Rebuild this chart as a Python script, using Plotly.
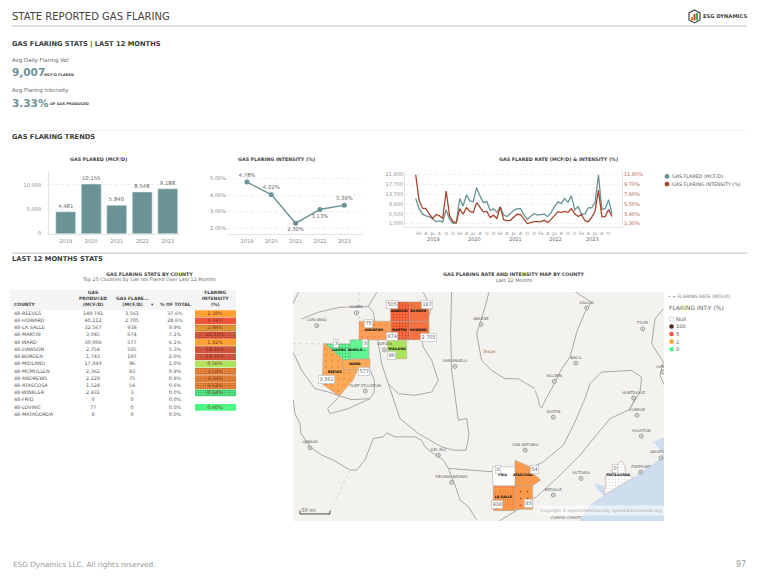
import plotly.graph_objects as go

W, H = 768, 587
FONT = "DejaVu Sans"
TEAL = "#6a9396"
RUST = "#a5452c"

# yearly trends
years = ["2019", "2020", "2021", "2022", "2023"]
flared_yearly = [4481, 10155, 5840, 8548, 9188]
intensity_yearly = [4.78, 4.02, 2.30, 3.13, 3.39]

# monthly trend, Jan 2019 to Nov 2023
flared_monthly = [11850, 7700, 5400, 4700, 4400, 3300, 2300, 2600, 2200, 7200, 3300, 1600, 1700, 11850, 8800,
                  13400, 10900, 10600, 16400, 13000, 10200, 10600, 7000, 7600, 6200, 8400, 5000, 4400, 5600, 7000,
                  7700, 7700, 5100, 3300, 4500, 5600, 5000, 5100, 5400, 4400, 6000, 8400, 10500, 9900, 11850,
                  10300, 13000, 7200, 8500, 5400, 5400, 8100, 8000, 10200, 21800, 7400, 7700, 11400, 5400]
intensity_monthly = [11.8, 6.3, 4.6, 4.5, 3.4, 2.4, 3.2, 3.0, 2.4, 8.3, 3.0, 1.7, 1.5, 4.5, 3.3, 4.7, 3.9, 3.7,
                     5.8, 4.7, 3.8, 3.9, 2.6, 3.1, 2.4, 4.9, 2.1, 1.9, 2.0, 2.7, 3.3, 3.2, 2.2, 1.3, 1.5, 1.7,
                     1.7, 1.7, 2.0, 1.5, 2.2, 2.9, 3.8, 3.7, 3.9, 3.7, 4.5, 3.4, 2.8, 3.2, 1.9, 1.7, 2.6, 4.0,
                     8.5, 2.8, 2.8, 4.3, 2.8]
month_ticks = list(range(1, 58, 2))
month_labels = (["Fe", "A", "Ju", "A", "O", "D"] * 5)[:29]
year_label_pos = [5.4, 17.4, 29.4, 41.4, 52.2]
left_ticks = [1500, 5500, 9600, 13700, 17700, 21800]
right_ticks = [1.3, 3.4, 5.5, 7.6, 9.7, 11.8]
intensity_ticks = [2, 3, 4, 5]

# county table
county = ["48-REEVES", "48-HOWARD", "48-LA SALLE", "48-MARTIN", "48-WARD", "48-DAWSON", "48-BORDEN", "48-MIDLAND",
          "48-MCMULLEN", "48-ANDREWS", "48-ATASCOSA", "48-WINKLER", "48-FRIO", "48-LOVING", "48-MATAGORDA"]
gas_produced = ["149,741", "40,112", "32,567", "3,045", "30,006", "2,754", "1,743", "17,049", "2,362", "2,229",
                "1,524", "2,431", "0", "77", "8"]
gas_flared = ["3,561", "2,705", "938", "674", "577", "505", "187", "96", "83", "75", "54", "3", "0", "0", "0"]
pct_total = ["37.6%", "28.6%", "9.9%", "7.1%", "6.1%", "5.3%", "2.0%", "1.0%", "0.9%", "0.8%", "0.6%", "0.0%",
             "0.0%", "0.0%", "0.0%"]
flare_int = ["2.38%", "6.74%", "2.88%", "22.13%", "1.92%", "18.34%", "10.73%", "0.56%", "3.53%", "3.36%", "3.52%",
             "0.14%", "", "0.40%", ""]

# table cell colours: base, dither dots, dither on/off
int_base = ["#ffa233", "#f0553a", "#ffa233", "#f0553a", "#ffa233", "#f0553a", "#f0553a", "#ade35f", "#ff8a33",
            "#ff8a33", "#ff8a33", "#4df885", "#ffffff", "#4df885", "#ffffff"]
int_dots = ["#ffa233", "#f0553a", "#e8502f", "#ffa233", "#ffa233", "#ffa233", "#ffa233", "#ade35f", "#e8402a",
            "#e8402a", "#e8402a", "#ffa233", "#ffffff", "#4df885", "#ffffff"]
int_shape = ["", "", ".", ".", "", ".", ".", "", ".", ".", ".", ".", "", "", ""]

# county colours on the map
map_fill = ["#fbab58", "#f5713f", "#fb9a4c", "#f4683a", "#fbab58", "#f4683a", "#f5713f", "#abe35d", "#fb9a4c",
            "#fb9f58", "#fb9a4c", "#5ff590", "#ffffff", "#5ff590", "#ffffff"]
map_dots = ["#e8702a", None, "#e86a28", "#d04020", None, "#d04020", None, None, "#b84a20", "#e06a28", None, None,
            None, "#3fb060", "#d5d5d5"]
map_dot_gap = [6, 0, 2.4, 3, 0, 3, 0, 0, 7, 6, 0, 0, 0, 3, 3]

# map geometry, lon/lat
gulf_lon = [-97.037, -96.751, -96.374, -95.586, -95.048, -94.851, -94.761, -94.761]
gulf_lat = [27.75, 28.126, 28.361, 28.769, 29.107, 29.24, 29.381, 27.75]
galveston_lon = [-95.075, -95.003, -94.869, -94.761, -94.761, -94.914, -95.003]
galveston_lat = [29.656, 29.632, 29.695, 29.711, 29.381, 29.46, 29.577]
matagorda_bay_lon = [-96.643, -96.5, -96.347, -96.392, -96.571]
matagorda_bay_lat = [28.636, 28.612, 28.558, 28.361, 28.503]

roads = [
    [(-104.735, 31.735), (-104.502, 31.303), (-104.144, 30.872), (-103.785, 30.793), (-103.472, 30.699)],
    [(-103.472, 30.699), (-103.803, 30.401), (-103.74, 30.284), (-103.248, 30.401), (-102.665, 30.637)],
    [(-103.472, 30.699), (-103.158, 30.613), (-102.665, 30.637), (-102.549, 30.793), (-102.549, 31.068), (-102.665, 31.319)],
    [(-104.502, 32.519), (-104.054, 32.676), (-103.472, 32.793), (-103.023, 32.809), (-102.71, 32.809), (-102.575, 32.676),
     (-102.441, 31.931), (-102.351, 31.46), (-102.172, 30.989), (-101.903, 30.754), (-101.455, 30.715), (-101.007, 30.793),
     (-100.828, 31.068), (-101.007, 31.538), (-101.231, 31.852), (-101.276, 32.048)],
    [(-104.735, 32.872), (-104.592, 33.146)],
    [(-102.71, 32.809), (-102.486, 33.146)],
    [(-101.231, 33.146), (-101.097, 32.911), (-101.007, 32.793), (-101.097, 32.558)],
    [(-100.47, 33.154), (-100.497, 32.244), (-100.47, 31.303), (-100.291, 30.127), (-100.066, 30.165), (-100.003, 29.773),
     (-100.084, 29.42), (-100.425, 29.42), (-100.739, 29.499), (-101.366, 29.813), (-101.859, 30.166), (-102.172, 30.989)],
    [(-99.466, 33.154), (-99.574, 32.793), (-99.798, 32.166), (-99.663, 31.538), (-99.394, 31.303), (-99.036, 31.107),
     (-98.678, 31.107), (-98.23, 30.872)],
    [(-104.726, 30.597), (-104.681, 30.284), (-104.547, 30.048), (-104.52, 29.813), (-104.278, 29.499), (-103.964, 29.303),
     (-103.651, 29.186), (-103.203, 28.95), (-103.023, 28.95), (-102.8, 29.186), (-102.665, 29.499), (-102.575, 29.695),
     (-102.307, 29.735), (-102.217, 29.829), (-101.993, 29.735), (-101.455, 29.735), (-101.276, 29.656), (-101.187, 29.499),
     (-100.962, 29.342), (-100.694, 29.186), (-100.559, 28.99), (-100.38, 28.597), (-100.246, 28.244), (-100.022, 28.088),
     (-99.798, 27.774)],
    [(-100.559, 28.99), (-99.574, 28.927), (-99.349, 28.91), (-98.722, 28.91), (-98.364, 28.989), (-98.005, 29.146),
     (-97.468, 29.538), (-97.154, 30.087), (-96.885, 30.636), (-96.751, 30.989), (-96.437, 31.264), (-95.63, 31.303),
     (-95.362, 31.146), (-95.406, 30.793), (-95.675, 30.401), (-95.541, 30.636)],
    [(-99.188, 27.75), (-98.632, 28.048), (-98.185, 28.322), (-97.647, 28.754), (-97.02, 29.303), (-96.572, 29.773),
     (-96.213, 30.165), (-95.675, 30.385)],
    [(-97.154, 33.162), (-96.706, 32.911), (-96.885, 32.675), (-97.109, 32.205), (-97.288, 31.617), (-97.512, 31.342),
     (-97.781, 30.871), (-97.934, 30.636), (-98.05, 30.416), (-98.113, 30.479), (-98.14, 30.636), (-98.229, 30.83)],
    [(-94.779, 32.754), (-95.003, 32.519), (-95.093, 31.93), (-94.779, 31.499), (-94.869, 31.185), (-94.761, 30.966)],
]
state_line_lon = [-104.735, -103.857, None, -102.96, -102.96, None, -103.203, -103.83]
state_line_lat = [31.931, 31.931, None, 33.15, 32.47, None, 28.95, 27.813]

county_shapes = {
    "REEVES": [(-103.92, 31.931), (-103.857, 31.931), (-103.382, 31.554), (-103.382, 31.319), (-102.997, 31.319),
               (-103.113, 31.084), (-103.49, 30.699), (-103.964, 30.989), (-103.937, 31.303)],
    "HOWARD": [(-101.6, 32.464), (-101.08, 32.464), (-101.08, 32.025), (-101.6, 32.025)],
    "LA SALLE": [(-99.349, 28.581), (-98.767, 28.581), (-98.767, 27.993), (-99.349, 27.993)],
    "MARTIN": [(-102.11, 32.464), (-101.6, 32.464), (-101.6, 32.025), (-102.11, 32.025)],
    "WARD": [(-103.382, 31.554), (-102.665, 31.578), (-102.665, 31.342), (-102.979, 31.319), (-103.382, 31.319)],
    "DAWSON": [(-102.11, 32.919), (-101.6, 32.919), (-101.6, 32.464), (-102.11, 32.464)],
    "BORDEN": [(-101.6, 32.919), (-101.08, 32.919), (-101.08, 32.464), (-101.6, 32.464)],
    "MIDLAND": [(-102.19, 32.009), (-101.68, 32.009), (-101.68, 31.578), (-102.19, 31.578)],
    "MCMULLEN": [(-98.767, 28.581), (-98.292, 28.581), (-98.292, 28.024), (-98.767, 28.024)],
    "ANDREWS": [(-102.96, 32.464), (-102.11, 32.464), (-102.11, 32.025), (-102.96, 32.025)],
    "ATASCOSA": [(-98.767, 29.185), (-98.364, 29.028), (-98.247, 28.848), (-98.077, 28.714), (-98.292, 28.581), (-98.767, 28.581)],
    "WINKLER": [(-103.203, 32.025), (-102.692, 32.025), (-102.692, 31.578), (-103.203, 31.578)],
    "FRIO": [(-99.367, 29.028), (-98.767, 29.028), (-98.767, 28.581), (-99.367, 28.581)],
    "LOVING": [(-103.857, 31.931), (-103.203, 31.931), (-103.203, 31.554), (-103.382, 31.554)],
    "MATAGORDA": [(-96.33, 28.848), (-96.213, 28.871), (-96.123, 29.028), (-95.989, 29.107), (-95.9, 29.161), (-95.801, 29.028),
                  (-95.783, 28.848), (-95.586, 28.769), (-96.374, 28.361), (-96.33, 28.597)],
}
county_label_names = ["DAWSON", "BORDEN", "MARTIN", "HOWARD", "ANDREWS", "MIDLAND", "LOVING", "WINKLE...", "WARD",
                      "REEVES", "FRIO", "ATASCOSA", "LA SALLE", "MATAGORDA"]
county_label_lon = [-101.88, -101.37, -101.88, -101.37, -102.56, -101.94, -103.5, -103.02, -103.07, -103.61,
                    -99.1, -98.56, -99.08, -95.99]
county_label_lat = [32.707, 32.707, 32.26, 32.26, 32.26, 31.81, 31.79, 31.78, 31.45, 31.26, 28.824, 28.82, 28.306, 28.84]

box_values = ["505", "187", "75", "674", "2,705", "3", "3", "96", "577", "3,561", "0", "54", "938", "83", "0"]
box_lon = [-102.07, -101.13, -102.71, -102.08, -101.09, -103.58, -102.79, -102.08, -102.83, -103.84,
           -99.215, -98.23, -99.26, -98.4, -96.09]
box_lat = [32.856, 32.856, 32.417, 32.095, 32.087, 31.931, 31.93, 31.648, 31.288, 31.099, 28.965, 28.97, 28.142, 28.15, 28.98]

city_names = ["CARLSBAD", "HOBBS", "ODESSA", "SAN ANGELO", "ABILENE", "PORT STOCKTON", "OJINAGA", "DEL RIO",
              "PIEDRAS NEGRAS", "DALLAS", "TYLER", "WACO", "KILLEEN", "HUNTSVILLE", "AUSTIN", "SAN ANTONIO", "HOUSTON",
              "GALVESTON", "BEEVILLE", "VICTORIA", "FREEPORT", "CONROE", "LUFKIN"]
city_lon = [-104.099, -103.032, -102.28, -100.38, -99.681, -102.79, -104.278, -100.828, -100.47, -96.84, -95.335,
            -97.136, -97.709, -95.577, -97.736, -98.49, -95.371, -94.842, -97.736, -96.993, -95.389, -95.487, -94.797]
city_lat = [32.362, 32.66, 31.79, 31.397, 32.386, 30.817, 29.476, 29.303, 28.66, 32.777, 32.283, 31.475, 31.044,
            30.652, 30.197, 29.42, 29.75, 29.24, 28.361, 28.754, 28.903, 30.244, 31.264]

legend_names = ["Null", "100", "5", "1", "0"]
legend_colors = ["#ffffff", "#5a2a20", "#f0553a", "#ffa233", "#4df885"]


def px_x(x):
    return x / W


def px_y(y):
    return 1 - y / H


def dom_x(a, b):
    return [px_x(a), px_x(b)]


def dom_y(top, bottom):
    return [px_y(bottom), px_y(top)]


annotations = []
shapes = []


def txt(x, y, s, size=5.0, color="#555555", anchor="left", bold=False, family=FONT, valign="middle"):
    # annotations carry about 2px of padding on the left
    if anchor == "left":
        x -= 2
    annotations.append(dict(x=px_x(x), y=px_y(y), xref="paper", yref="paper", text=f"<b>{s}</b>" if bold else s,
                            showarrow=False, xanchor=anchor, yanchor=valign,
                            font=dict(size=size, color=color, family=family), align="center"))


def rule(y, x0=12, x1=747, color="#d4d4d4", width=1.5):
    shapes.append(dict(type="line", xref="paper", yref="paper", x0=px_x(x0), x1=px_x(x1), y0=px_y(y), y1=px_y(y),
                       line=dict(color=color, width=width)))


def dot(x, y, r, color, line="rgba(0,0,0,0)"):
    shapes.append(dict(type="circle", xref="paper", yref="paper", x0=px_x(x - r), x1=px_x(x + r), y0=px_y(y + r),
                       y1=px_y(y - r), fillcolor=color, line=dict(color=line, width=0.6)))


fig = go.Figure()

# bars
fig.add_trace(go.Bar(x=years, y=flared_yearly, marker_color=TEAL, width=0.78, text=[f"{v:,}" for v in flared_yearly],
                     textposition="outside", textfont=dict(size=5.3, color="#666666"), cliponaxis=False,
                     xaxis="x", yaxis="y"))

# intensity line
fig.add_trace(go.Scatter(x=years, y=intensity_yearly, mode="lines+markers+text", line=dict(color=TEAL, width=1.4),
                         marker=dict(size=5, color=TEAL), text=[f"{v:.2f}%" for v in intensity_yearly],
                         textposition=["top center", "top center", "bottom center", "bottom center", "top center"],
                         textfont=dict(size=5.3, color="#666666"), cliponaxis=False, xaxis="x2", yaxis="y2"))

# monthly combo
month_idx = list(range(len(flared_monthly)))
fig.add_trace(go.Scatter(x=month_idx, y=flared_monthly, mode="lines", line=dict(color=TEAL, width=1.3), xaxis="x3", yaxis="y3"))
fig.add_trace(go.Scatter(x=month_idx, y=intensity_monthly, mode="lines", line=dict(color=RUST, width=1.3), xaxis="x3", yaxis="y4"))

# table intensity column
col_left, col_width = 195, 41
fig.add_trace(go.Bar(y=list(range(len(county))), x=[col_width if v else None for v in flare_int], base=col_left,
                     orientation="h", width=0.94,
                     marker=dict(color=int_base, line_width=0,
                                 pattern=dict(shape=int_shape, size=2.4, solidity=0.4, fgcolor=int_dots, fillmode="overlay")),
                     xaxis="x5", yaxis="y6"))
col_pos = [(14, county, "middle right"), (93, gas_produced, "middle center"), (132, gas_flared, "middle center"),
           (175, pct_total, "middle center"), (215, flare_int, "middle center")]
for cx, vals, pos in col_pos:
    fig.add_trace(go.Scatter(x=[cx] * len(vals), y=list(range(len(vals))), text=vals, mode="text", textposition=pos,
                             textfont=dict(size=4.9, color="#7a3020" if cx == 215 else "#555555"),
                             cliponaxis=False, xaxis="x5", yaxis="y6"))

# map
WATER = "#cfdeee"
for lons, lats in [(gulf_lon, gulf_lat), (galveston_lon, galveston_lat), (matagorda_bay_lon, matagorda_bay_lat)]:
    fig.add_trace(go.Scatter(x=lons, y=lats, mode="lines", fill="toself", fillcolor=WATER, line=dict(width=0, color=WATER),
                             xaxis="x4", yaxis="y5"))
for road in roads:
    fig.add_trace(go.Scatter(x=[p[0] for p in road], y=[p[1] for p in road], mode="lines",
                             line=dict(color="#a9a9a9", width=1.0), xaxis="x4", yaxis="y5"))
fig.add_trace(go.Scatter(x=state_line_lon, y=state_line_lat, mode="lines", line=dict(color="#bdbdbd", width=0.6, dash="dot"),
                         xaxis="x4", yaxis="y5"))

for name, base, dots, gap in zip(county, map_fill, map_dots, map_dot_gap):
    shape = county_shapes[name.replace("48-", "")]
    lons = [p[0] for p in shape] + [shape[0][0]]
    lats = [p[1] for p in shape] + [shape[0][1]]
    trace = go.Scatter(x=lons, y=lats, mode="lines", fill="toself", fillcolor=base,
                       line=dict(color="#b0a090", width=0.5), xaxis="x4", yaxis="y5")
    if dots:
        # sparser grids get a smaller dot share
        trace.fillpattern = dict(shape=".", size=gap, solidity=0.16 if gap < 4 else 0.05, fgcolor=dots, bgcolor=base,
                                 fillmode="replace")
    fig.add_trace(trace)

fig.add_trace(go.Scatter(x=city_lon, y=city_lat, mode="markers+text", text=city_names, textposition="top center",
                         textfont=dict(size=3.7, color="#555555"),
                         marker=dict(symbol="circle-dot", size=4, color="#f3f2ef", line=dict(color="#666666", width=0.6)),
                         xaxis="x4", yaxis="y5"))
fig.add_trace(go.Scatter(x=[-97.396], y=[27.812], mode="text", text=["CORPUS CHRISTI"], textfont=dict(size=3.7, color="#555555"),
                         xaxis="x4", yaxis="y5"))
fig.add_trace(go.Scatter(x=[-99.466], y=[31.75], mode="text", text=["Texas"], textfont=dict(size=4.6, color="#9c6b3c"),
                         xaxis="x4", yaxis="y5"))
fig.add_trace(go.Scatter(x=county_label_lon, y=county_label_lat, mode="text", text=[f"<b>{n}</b>" for n in county_label_names],
                         textfont=dict(size=3.3, color="#111111"), xaxis="x4", yaxis="y5"))
fig.add_trace(go.Scatter(x=[-104.547, -104.547, -103.74, -103.74], y=[27.993, 27.915, 27.915, 27.993], mode="lines",
                         line=dict(color="#333333", width=0.9), xaxis="x4", yaxis="y5"))
fig.add_trace(go.Scatter(x=[-104.32], y=[28.0], mode="text", text=["50 mi"], textfont=dict(size=5, color="#555555"),
                         xaxis="x4", yaxis="y5"))

for label, lon, lat in zip(box_values, box_lon, box_lat):
    annotations.append(dict(x=lon, y=lat, xref="x4", yref="y5", text=label, showarrow=False, bgcolor="#ffffff",
                            bordercolor="#bbbbbb", borderwidth=0.6, borderpad=0.8, font=dict(size=5, color="#666666")))
annotations.append(dict(x=-96.46, y=28.0, xref="x4", yref="y5", text="Copyright © openstreetmap.org, opendatacommons.org",
                        showarrow=False, bgcolor="rgba(255,255,255,0.55)", borderpad=2, font=dict(size=4.3, color="#aaaaaa")))

# page furniture
rule(26)
rule(131, color="#f1f1f1", width=1)
rule(254)
txt(12, 17, "STATE REPORTED GAS FLARING", 10, "#444444")
txt(12, 44, "GAS FLARING STATS | LAST 12 MONTHS", 6.7, "#3a3a3a", bold=True)
txt(12, 61, "Avg Daily Flaring Vol", 5.5, "#666666")
txt(12, 72.5, "9,007", 10.5, TEAL, bold=True)
txt(44, 75, "MCF/D FLARED", 3.6, "#444444", bold=True)
txt(12, 91, "Avg Flaring Intensity", 5.5, "#666666")
txt(12, 103, "3.33%", 10.5, TEAL, bold=True)
txt(50, 104.5, "OF GAS PRODUCED", 3.6, "#444444", bold=True)
txt(12, 137, "GAS FLARING TRENDS", 6.7, "#3a3a3a", bold=True)
txt(12, 260, "LAST 12 MONTHS STATS", 6.7, "#3a3a3a", bold=True)
txt(98, 160, "GAS FLARED (MCF/D)", 4.8, "#444444", "center", True)
txt(276, 160, "GAS FLARING INTENSITY (%)", 4.8, "#444444", "center", True)
txt(558, 160, "GAS FLARED RATE (MCF/D) &amp; INTENSITY (%)", 4.8, "#444444", "center", True)
txt(149, 275, "GAS FLARING STATS BY COUNTY", 4.8, "#444444", "center", True)
txt(149, 280.5, "Top 25 Counties by Gas Vol Flared Over Last 12 Months", 4.8, "#666666", "center")
txt(514, 275, "GAS FLARING RATE AND INTENSITY MAP BY COUNTY", 4.8, "#444444", "center", True)
txt(514, 281, "Last 12 Months", 4.8, "#666666", "center")
txt(13, 566, "ESG Dynamics LLC. All rights reserved.", 7.3, "#9a9a9a")
txt(741, 566, "97", 8, "#9a9a9a", "center")

# table header
shapes.append(dict(type="rect", xref="paper", yref="paper", x0=px_x(10), x1=px_x(236), y0=px_y(311), y1=px_y(291),
                   fillcolor="#f5f5f5", line_width=0, layer="below"))
txt(14, 310.5, "COUNTY", 4.5, "#444444", bold=True, valign="bottom")
txt(93, 310.5, "GAS<br>PRODUCED<br>(MCF/D)", 4.5, "#444444", "center", True, valign="bottom")
txt(132, 310.5, "GAS FLARE...<br>(MCF/D)", 4.5, "#444444", "center", True, valign="bottom")
txt(152, 310.5, "▾", 4.5, "#444444", "center", valign="bottom")
txt(175, 310.5, "% OF TOTAL", 4.5, "#444444", "center", True, valign="bottom")
txt(215, 310.5, "FLARING<br>INTENSITY<br>(%)", 4.5, "#444444", "center", True, valign="bottom")

# chart legends
dot(667, 177, 2.4, TEAL)
dot(667, 184.7, 2.4, RUST)
txt(672, 177, "GAS FLARED (MCF/D)", 4.8, "#555555")
txt(672, 184.7, "GAS FLARING INTENSITY (%)", 4.8, "#555555")

txt(668, 298, "• = FLARING RATE (MCF/D)", 4.6, "#777777")
txt(669, 308.5, "FLARING INT-Y (%)", 6, "#666666")
for i, (label, color) in enumerate(zip(legend_names, legend_colors)):
    y = 320 + i * 7.6
    dot(671.5, y, 2.3, color, "#bbbbbb" if label == "Null" else "rgba(0,0,0,0)")
    txt(676, y, label, 5.2, "#555555")

# logo
hex_x = [694.5, 700, 700, 694.5, 689, 689]
hex_y = [10, 13, 20, 23, 20, 13]
hex_path = "M " + " L ".join(f"{px_x(a)} {px_y(b)}" for a, b in zip(hex_x, hex_y)) + " Z"
shapes.append(dict(type="path", xref="paper", yref="paper", path=hex_path, fillcolor="#ffffff",
                   line=dict(color="#444444", width=1.2)))
for bx, btop, bcolor in [(692, 17, "#e8762c"), (694.5, 14, "#d8392b"), (697, 13, "#4caf50")]:
    shapes.append(dict(type="rect", xref="paper", yref="paper", x0=px_x(bx - 1), x1=px_x(bx + 1), y0=px_y(20.5),
                       y1=px_y(btop), fillcolor=bcolor, line_width=0))
txt(703, 16.5, "ESG DYNAMICS", 5.2, "#444444", bold=True)

# map background sits under the traces
shapes.append(dict(type="rect", xref="x4", yref="y5", x0=-104.735, x1=-94.761, y0=27.75, y1=33.154,
                   fillcolor="#f3f2ef", line_width=0, layer="below"))

for label, pos in zip(years, year_label_pos):
    annotations.append(dict(x=pos, y=px_y(240), xref="x3", yref="paper", text=label, showarrow=False,
                            font=dict(size=5, color="#666666")))

tick = dict(size=5, color="#888888")
grid = dict(showgrid=True, gridcolor="#eeeeee", griddash="dot", gridwidth=0.8, zeroline=False)
base_x = dict(showgrid=False, zeroline=False, showline=True, linecolor="#e4e4e4", linewidth=0.8, ticks="")

fig.update_layout(
    width=W, height=H, autosize=False, margin=dict(l=0, r=0, t=0, b=0, pad=0), showlegend=False,
    paper_bgcolor="#ffffff", plot_bgcolor="#ffffff", font=dict(family=FONT), hovermode=False,
    annotations=annotations, shapes=shapes, barmode="overlay",
    xaxis=dict(domain=dom_x(49, 180), anchor="y", type="category", range=[-0.655, 4.48], ticklabelstandoff=2,
               tickfont=tick, **base_x),
    yaxis=dict(domain=dom_y(172, 235), anchor="x", range=[-100, 12750], tickvals=[0, 5000, 10000], tickformat=",",
               tickfont=tick, showline=True, linecolor="#e4e4e4", linewidth=0.8, ticklabelstandoff=6, **grid),
    xaxis2=dict(domain=dom_x(227, 363), anchor="y2", type="category", range=[-0.82, 4.77], ticklabelstandoff=2,
                tickfont=tick, **base_x),
    yaxis2=dict(domain=dom_y(172, 235), anchor="x2", range=[1.64, 5.42], tickvals=intensity_ticks,
                ticktext=[f"{v:.2f}%" for v in intensity_ticks], tickfont=tick, **grid),
    xaxis3=dict(domain=dom_x(405, 622), anchor="y3", range=[-3.16, 60.96], tickvals=month_ticks, ticktext=month_labels,
                tickangle=0, ticklabelstandoff=1, tickfont=dict(size=4.5, color="#888888"), **base_x),
    yaxis3=dict(domain=dom_y(172, 228), anchor="x3", range=[-33, 23167], tickvals=left_ticks, tickformat=",",
                tickfont=dict(size=5, color="#8796a5"), showline=True, linecolor="#e4e4e4", linewidth=0.8, **grid),
    yaxis4=dict(domain=dom_y(172, 228), anchor="x3", overlaying="y3", side="right", range=[0.507, 12.507], tickvals=right_ticks,
                ticktext=[f"{v:.2f}%" for v in right_ticks], tickfont=dict(size=5, color="#b5654a"), showgrid=False,
                zeroline=False, showline=True, linecolor="#e4e4e4", linewidth=0.8),
    xaxis4=dict(domain=dom_x(293, 664), anchor="y5", range=[-104.735, -94.761], visible=False),
    yaxis5=dict(domain=dom_y(293, 522.7), anchor="x4", range=[27.75, 33.154], visible=False),
    xaxis5=dict(domain=dom_x(10, 236), anchor="y6", range=[10, 236], visible=False),
    yaxis6=dict(domain=dom_y(311, 424), anchor="x5", range=[15.1, -0.51], visible=False),
)

fig.write_html("out.html", config={"displayModeBar": False},
               post_script="document.body.style.margin='0';")
